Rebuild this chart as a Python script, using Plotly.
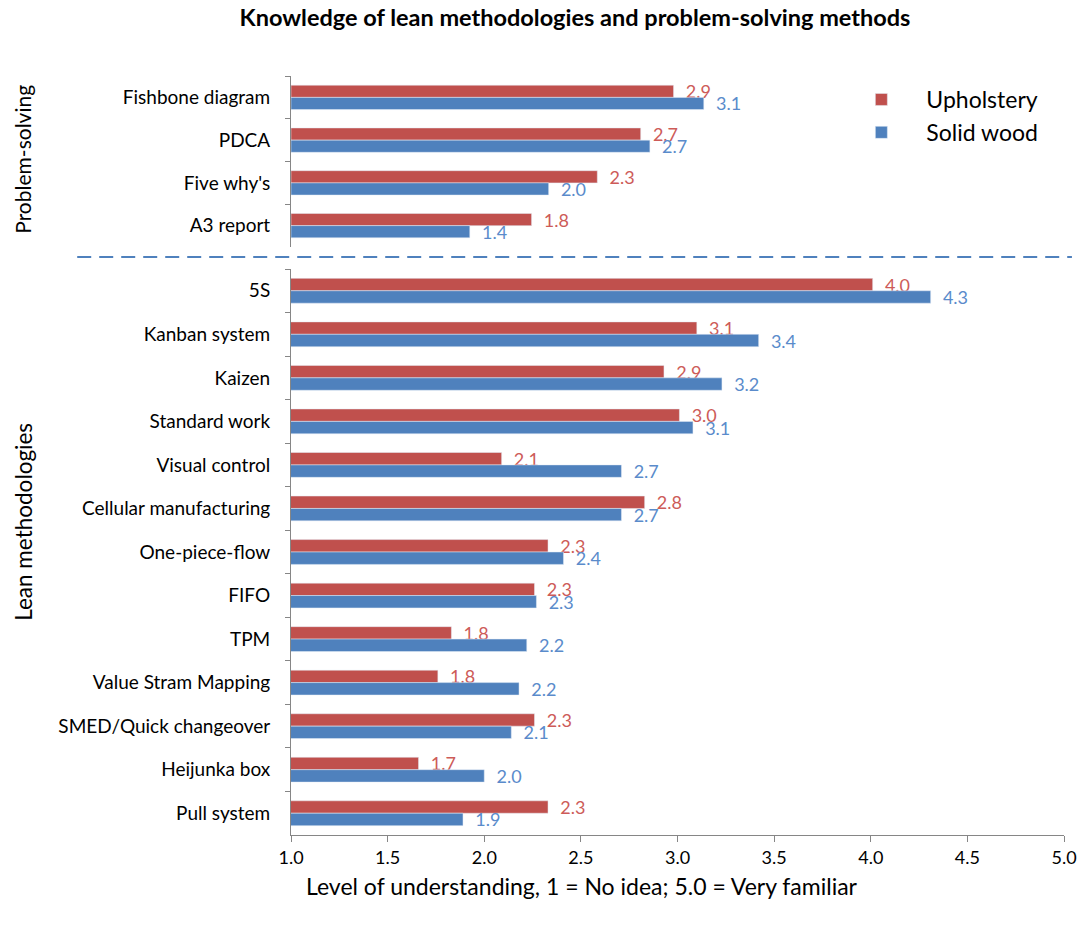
import plotly.graph_objects as go

FONT = "Lato"
RED = "#C0504D"
BLUE = "#4F81BD"
AXIS = "#868686"

# ---- data (top-to-bottom order) ----
ps_categories = ["Fishbone diagram", "PDCA", "Five why's", "A3 report"]
ps_upholstery = [2.91, 2.66, 2.33, 1.83]
ps_solid_wood = [3.14, 2.73, 1.96, 1.36]

lean_categories = ["5S", "Kanban system", "Kaizen", "Standard work", "Visual control",
                   "Cellular manufacturing", "One-piece-flow", "FIFO", "TPM",
                   "Value Stram Mapping", "SMED/Quick changeover", "Heijunka box", "Pull system"]
lean_upholstery = [4.01, 3.10, 2.93, 3.01, 2.09, 2.83, 2.33, 2.26, 1.83, 1.76, 2.26, 1.66, 2.33]
lean_solid_wood = [4.31, 3.42, 3.23, 3.08, 2.71, 2.71, 2.41, 2.27, 2.22, 2.18, 2.14, 2.00, 1.89]

x_ticks = [1.0, 1.5, 2.0, 2.5, 3.0, 3.5, 4.0, 4.5, 5.0]

W, H = 1089, 928
L, R, T, B = 291, 17, 76, 93
plot_h = H - T - B
plot_w = W - L - R


def py(px):
    return (H - B - px) / plot_h


def px_x(px):
    return (px - L) / plot_w


fig = go.Figure()

LBL = 18
common = dict(orientation="h", textposition="outside", constraintext="none",
              texttemplate="\u00a0\u00a0%{x:.1f}")

# bottom panel (lean)
fig.add_trace(go.Bar(name="Upholstery", y=lean_categories, x=lean_upholstery,
                     marker_color=RED, xaxis="x", yaxis="y",
                     textfont=dict(family=FONT, size=LBL, color="#CD5B58"), **common))
fig.add_trace(go.Bar(name="Solid wood", y=lean_categories, x=lean_solid_wood,
                     marker_color=BLUE, xaxis="x", yaxis="y",
                     textfont=dict(family=FONT, size=LBL, color="#5A8BCB"), **common))
# top panel (problem-solving)
fig.add_trace(go.Bar(name="Upholstery", y=ps_categories, x=ps_upholstery,
                     marker_color=RED, xaxis="x2", yaxis="y2", showlegend=False,
                     textfont=dict(family=FONT, size=LBL, color="#CD5B58"), **common))
fig.add_trace(go.Bar(name="Solid wood", y=ps_categories, x=ps_solid_wood,
                     marker_color=BLUE, xaxis="x2", yaxis="y2", showlegend=False,
                     textfont=dict(family=FONT, size=LBL, color="#5A8BCB"), **common))

yax = dict(type="category", autorange="reversed", showline=True, linecolor=AXIS, linewidth=1,
           ticks="outside", ticklen=5, tickcolor=AXIS, tickson="boundaries",
           tickfont=dict(family=FONT, size=19, color="#000000"), ticklabelstandoff=16,
           showgrid=False, zeroline=False)

fig.update_layout(
    width=W, height=H,
    margin=dict(l=L, r=R, t=T, b=B),
    paper_bgcolor="white", plot_bgcolor="white",
    barmode="group", bargap=0.43, bargroupgap=0,
    font=dict(family=FONT, color="#000000"),
    title=dict(text="<b>Knowledge of lean methodologies and problem-solving methods</b>",
               x=575 / W, xref="container", xanchor="center",
               y=1 - 18 / H, yref="container", yanchor="middle",
               font=dict(family=FONT, size=23.5, color="#000000")),
    xaxis=dict(domain=[0, 1], anchor="y", range=[1, 5], tickvals=x_ticks,
               ticktext=[f"{v:.1f}" for v in x_ticks],
               showline=True, linecolor=AXIS, ticks="outside", ticklen=6, tickcolor=AXIS,
               tickfont=dict(family=FONT, size=18), showgrid=False, zeroline=False),
    yaxis=dict(domain=[0, py(269)], anchor="x", categoryorder="array",
               categoryarray=lean_categories, **yax),
    xaxis2=dict(domain=[0, 1], anchor="y2", range=[0, 5.88], visible=False),
    yaxis2=dict(domain=[py(247), 1], anchor="x2", categoryorder="array",
                categoryarray=ps_categories, **yax),
    legend=dict(x=px_x(842), y=py(78), xanchor="left", yanchor="top",
                font=dict(family=FONT, size=23), itemwidth=80, bgcolor="rgba(0,0,0,0)",
                tracegroupgap=0),
    annotations=[
        dict(text="Problem-solving", textangle=-90, xref="paper", yref="paper",
             x=px_x(20), y=py(159), showarrow=False, xanchor="center", yanchor="middle",
             font=dict(family=FONT, size=21)),
        dict(text="Lean methodologies", textangle=-90, xref="paper", yref="paper",
             x=px_x(20), y=py(522), showarrow=False, xanchor="center", yanchor="middle",
             font=dict(family=FONT, size=22.5)),
        dict(text="Level of understanding, 1 = No idea; 5.0 = Very familiar",
             xref="paper", yref="paper", x=px_x(585), y=py(886), showarrow=False,
             xanchor="center", yanchor="middle", font=dict(family=FONT, size=23)),
    ],
    shapes=[dict(type="line", xref="paper", yref="paper", x0=px_x(75), x1=px_x(1080),
                 y0=py(257), y1=py(257), line=dict(color=BLUE, width=2, dash="14px,8px"))],
)

fig.write_html("out.html")
